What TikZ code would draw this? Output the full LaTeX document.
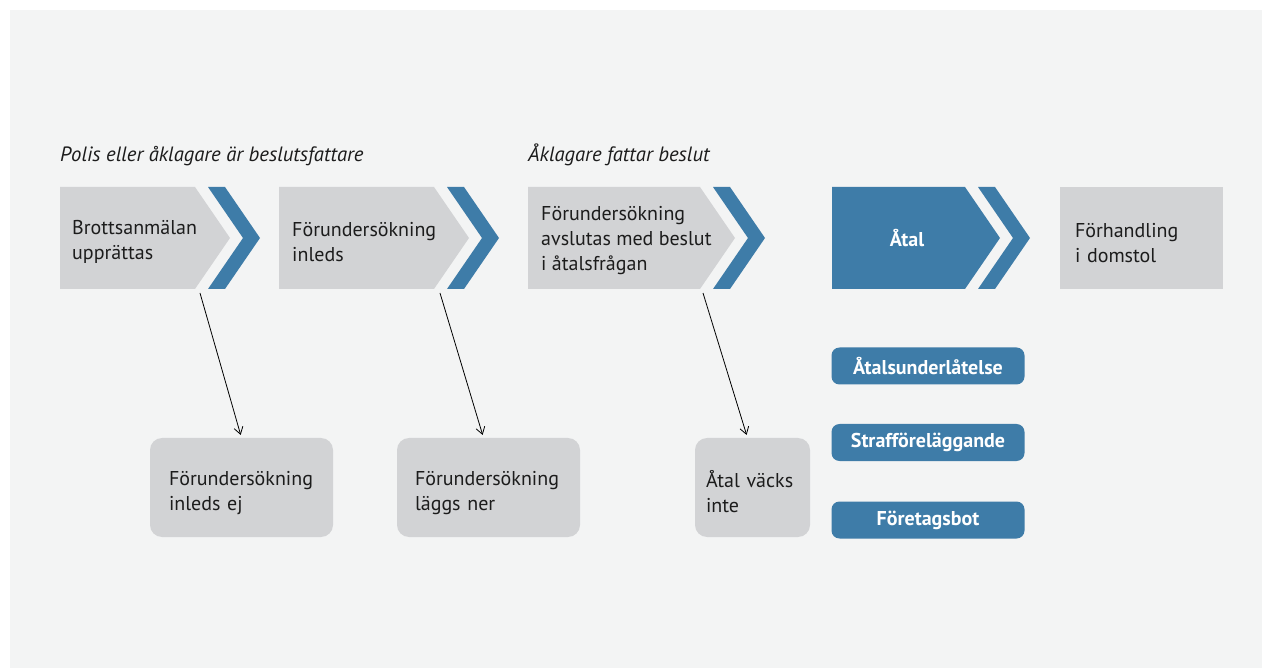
\documentclass[tikz,border=0pt]{standalone}
\usepackage{fontspec}
\setmainfont{PT Sans}
\usetikzlibrary{arrows.meta}

\definecolor{pagegray}{RGB}{243,244,244}
\definecolor{boxgray}{RGB}{210,211,213}
\definecolor{stepblue}{RGB}{62,124,168}
\definecolor{inkgray}{RGB}{28,28,28}

\begin{document}
\begin{tikzpicture}[x=1pt,y=-1pt,>={Straight Barb[length=7pt,width=9pt]},
                    font=\fontsize{20}{25}\selectfont,
                    stagetext/.style={anchor=west,align=left,inner sep=0pt,text=inkgray},
                    heading/.style={anchor=base west,inner sep=0pt,text=inkgray,
                                    font=\fontsize{20.7}{24}\selectfont\itshape},
                    outcome/.style={fill=boxgray,rounded corners=12pt,minimum height=99pt,
                                    align=left,text=inkgray,
                                    execute at begin node={\rule{0pt}{25pt}}},
                    choice/.style={fill=stepblue,rounded corners=8pt,minimum width=193pt,
                                   minimum height=37pt,text=white,
                                   font=\fontsize{20}{25}\selectfont\bfseries},
                    decision/.style={->,line width=0.8pt,shorten >=3pt}]

    \useasboundingbox (0,0) rectangle (1262,668);
    \fill[pagegray] (10,10) rectangle (1262,668);

    % steps with chevrons
    \foreach \l/\f/\c in {60/195/boxgray,279/434/boxgray,528/700/boxgray,832/965/stepblue}{
        \fill[\c] (\l,187) -- (\f,187) -- (\f+35,238) -- (\f,289) -- (\l,289) -- cycle;
        \fill[stepblue] (\f+13,187) -- (\f+30,187) -- (\f+65,238) -- (\f+30,289)
                        -- (\f+13,289) -- (\f+48,238) -- cycle;
    }

    \node[heading] (polis) at (60,162) {Polis eller åklagare är beslutsfattare};
    \node[heading] (aklagare) at (528,162) {Åklagare fattar beslut};

    \node[stagetext] (anmalan) at (72,242) {Brottsanmälan\\upprättas};
    \node[stagetext] (inleds) at (292,242) {Förundersökning\\inleds};
    \node[stagetext] (avslutas) at (541,241) {Förundersökning\\avslutas med beslut\\i åtalsfrågan};
    \node[text=white,font=\fontsize{20}{25}\selectfont\bfseries] (atal) at (907,238) {Åtal};
    \node[outcome,rounded corners=0pt,minimum width=163pt,minimum height=102pt,inner xsep=15pt,
          text width=133pt] (domstol) at (1141.5,238) {Förhandling\\i domstol};

    \node[outcome,inner xsep=19pt,text width=145pt] (ejinleds) at (241.5,487.5) {Förundersökning\\inleds ej};
    \node[outcome,inner xsep=18pt,text width=147pt] (laggsner) at (488.5,487.5) {Förundersökning\\läggs ner};
    \node[outcome,inner xsep=11pt,text width=93pt] (vacksinte) at (752.5,487.5) {Åtal väcks\\inte};

    \node[choice] (underlatelse) at (928,366) {Åtalsunderlåtelse};
    \node[choice] (straff) at (928,442.5) {Strafföreläggande};
    \node[choice] (bot) at (928,520) {Företagsbot};

    \coordinate (d1) at (200,293);
    \coordinate (d2) at (440,293);
    \coordinate (d3) at (703,293);
    \draw[decision] (d1) -- (ejinleds.north);
    \draw[decision] (d2) -- ([xshift=-5pt]laggsner.north);
    \draw[decision] (d3) -- ([xshift=-5pt]vacksinte.north);
\end{tikzpicture}
\end{document}
